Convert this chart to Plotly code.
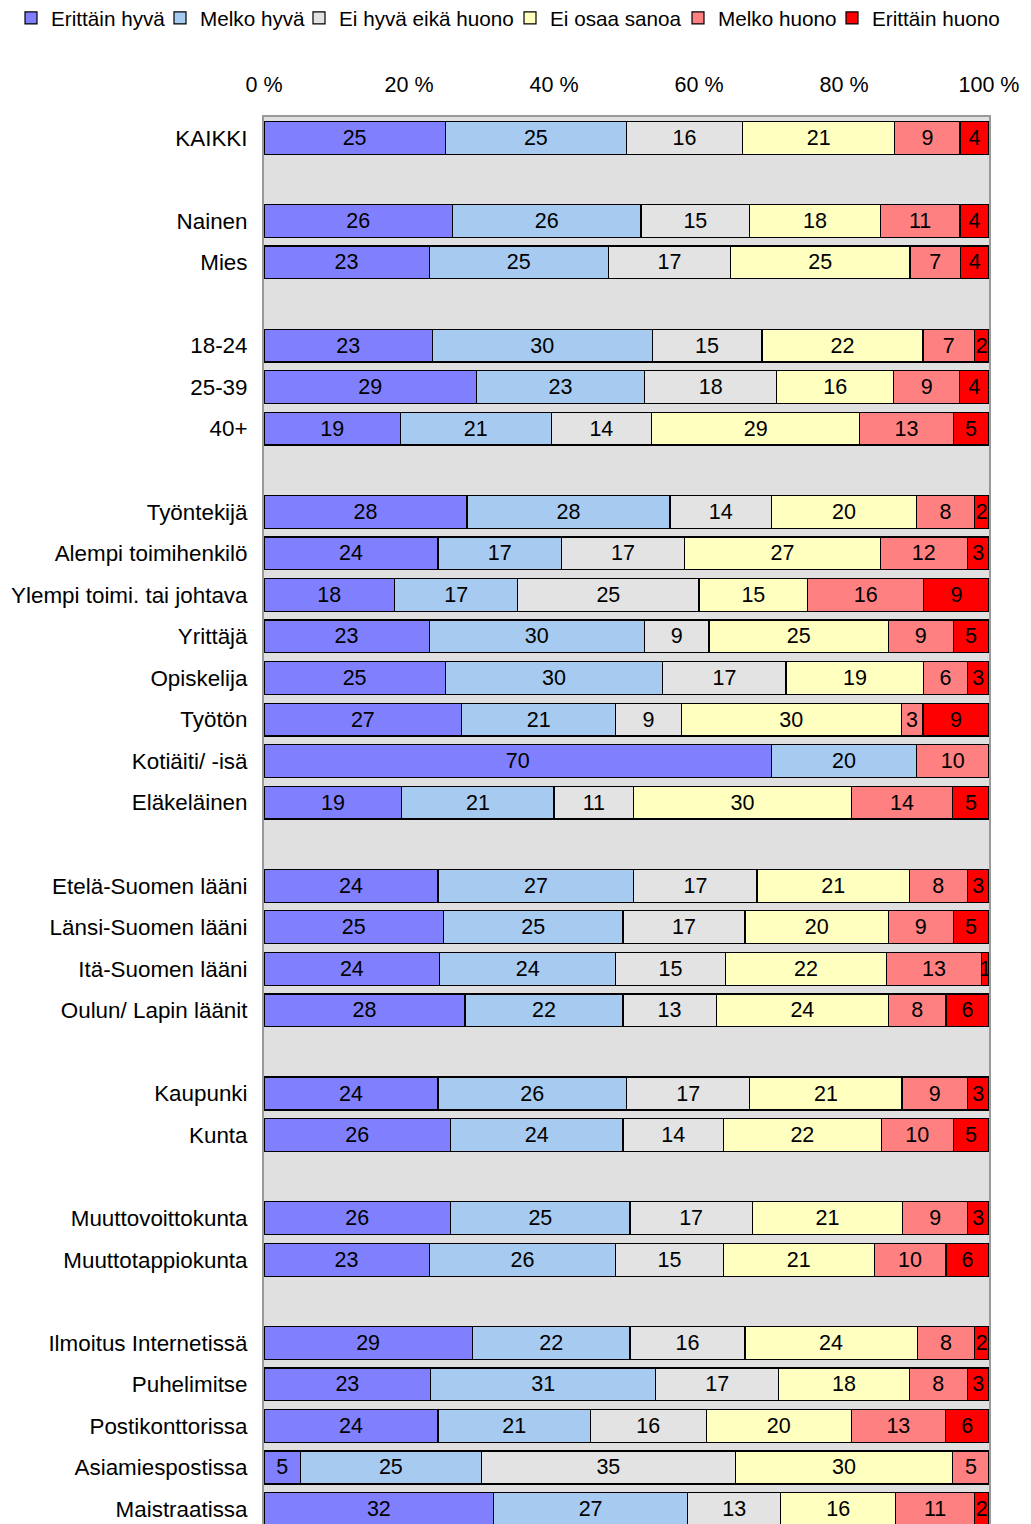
import plotly.graph_objects as go

# Vastaajaryhmät (ylhäältä alas) ja ryhmien koot, ryhmien väliin jää tyhjä rivi
categories = [
    "KAIKKI",
    "Nainen", "Mies",
    "18-24", "25-39", "40+",
    "Työntekijä", "Alempi toimihenkilö", "Ylempi toimi. tai johtava", "Yrittäjä",
    "Opiskelija", "Työtön", "Kotiäiti/ -isä", "Eläkeläinen",
    "Etelä-Suomen lääni", "Länsi-Suomen lääni", "Itä-Suomen lääni", "Oulun/ Lapin läänit",
    "Kaupunki", "Kunta",
    "Muuttovoittokunta", "Muuttotappiokunta",
    "Ilmoitus Internetissä", "Puhelimitse", "Postikonttorissa", "Asiamiespostissa", "Maistraatissa",
]
group_sizes = [1, 2, 3, 8, 4, 2, 2, 5]

series_names = ["Erittäin hyvä", "Melko hyvä", "Ei hyvä eikä huono",
                "Ei osaa sanoa", "Melko huono", "Erittäin huono"]

erittain_hyva = [25, 26, 23, 23, 29, 19, 28, 24, 18, 23, 25, 27, 70, 19,
                 24, 25, 24, 28, 24, 26, 26, 23, 29, 23, 24, 5, 32]
melko_hyva = [25, 26, 25, 30, 23, 21, 28, 17, 17, 30, 30, 21, 20, 21,
              27, 25, 24, 22, 26, 24, 25, 26, 22, 31, 21, 25, 27]
ei_hyva_eika_huono = [16, 15, 17, 15, 18, 14, 14, 17, 25, 9, 17, 9, None, 11,
                      17, 17, 15, 13, 17, 14, 17, 15, 16, 17, 16, 35, 13]
ei_osaa_sanoa = [21, 18, 25, 22, 16, 29, 20, 27, 15, 25, 19, 30, None, 30,
                 21, 20, 22, 24, 21, 22, 21, 21, 24, 18, 20, 30, 16]
melko_huono = [9, 11, 7, 7, 9, 13, 8, 12, 16, 9, 6, 3, 10, 14,
               8, 9, 13, 8, 9, 10, 9, 10, 8, 8, 13, 5, 11]
erittain_huono = [4, 4, 4, 2, 4, 5, 2, 3, 9, 5, 3, 9, None, 5,
                  3, 5, 1, 6, 3, 5, 3, 6, 2, 3, 6, None, 2]

series_values = [erittain_hyva, melko_hyva, ei_hyva_eika_huono,
                 ei_osaa_sanoa, melko_huono, erittain_huono]
colors = ["#8080FF", "#A6CAF0", "#E3E3E3", "#FFFFC0", "#FF8080", "#FF0000"]

# rivipaikat: tyhjä rivi ryhmien välissä
positions = []
row = 0
for size in group_sizes:
    for _ in range(size):
        positions.append(row)
        row += 1
    row += 1

FONT = "Liberation Sans, Arial, sans-serif"
W, H = 1023, 1516  # sivun body-marginaali (8 px) siirtää kuvaa
legend_left_px = [3, 152, 291, 502, 670, 824]  # selitteiden vasen reuna, px

fig = go.Figure()
legend_layouts = {}
for i, (name, vals, col) in enumerate(zip(series_names, series_values, colors)):
    lname = "legend" if i == 0 else f"legend{i + 1}"
    fig.add_trace(go.Bar(
        y=positions, x=vals, name=name, orientation="h", legend=lname,
        marker=dict(color=col, line=dict(color="black", width=1.2)),
        text=vals, texttemplate="%{text}", textposition="inside",
        insidetextanchor="middle", textangle=0,
        textfont=dict(family=FONT, size=21.5, color="black"),
        constraintext="none", hoverinfo="skip",
    ))
    legend_layouts[lname] = dict(
        orientation="h", xref="container", yref="container",
        x=legend_left_px[i] / W, xanchor="left",
        y=1 - 10 / H, yanchor="middle",
        font=dict(size=20.7), bgcolor="rgba(0,0,0,0)", borderwidth=0,
    )

fig.update_layout(
    barmode="stack", barnorm="percent", bargap=0.21,
    width=W, height=H,
    margin=dict(l=256, r=42, t=109, b=0, autoexpand=False),
    paper_bgcolor="white", plot_bgcolor="#E0E0E0",
    font=dict(family=FONT, size=22.4, color="black"),
    uniformtext=dict(minsize=21.5, mode="show"),
    showlegend=True,
    xaxis=dict(side="top", range=[0, 100], tickvals=[0, 20, 40, 60, 80, 100],
               ticktext=["0 %", "20 %", "40 %", "60 %", "80 %", "100 %"],
               showgrid=False, zeroline=False, ticks="",
               ticklabelstandoff=14, tickfont=dict(size=21.5),
               showline=True, linecolor="#999999", linewidth=2, mirror=True),
    yaxis=dict(range=[33.36, -0.5], tickvals=positions, ticktext=categories,
               showgrid=False, zeroline=False, ticks="",
               ticklabelstandoff=10,
               showline=True, linecolor="#999999", linewidth=2, mirror=True),
    **legend_layouts,
)

fig.write_html("out.html")
